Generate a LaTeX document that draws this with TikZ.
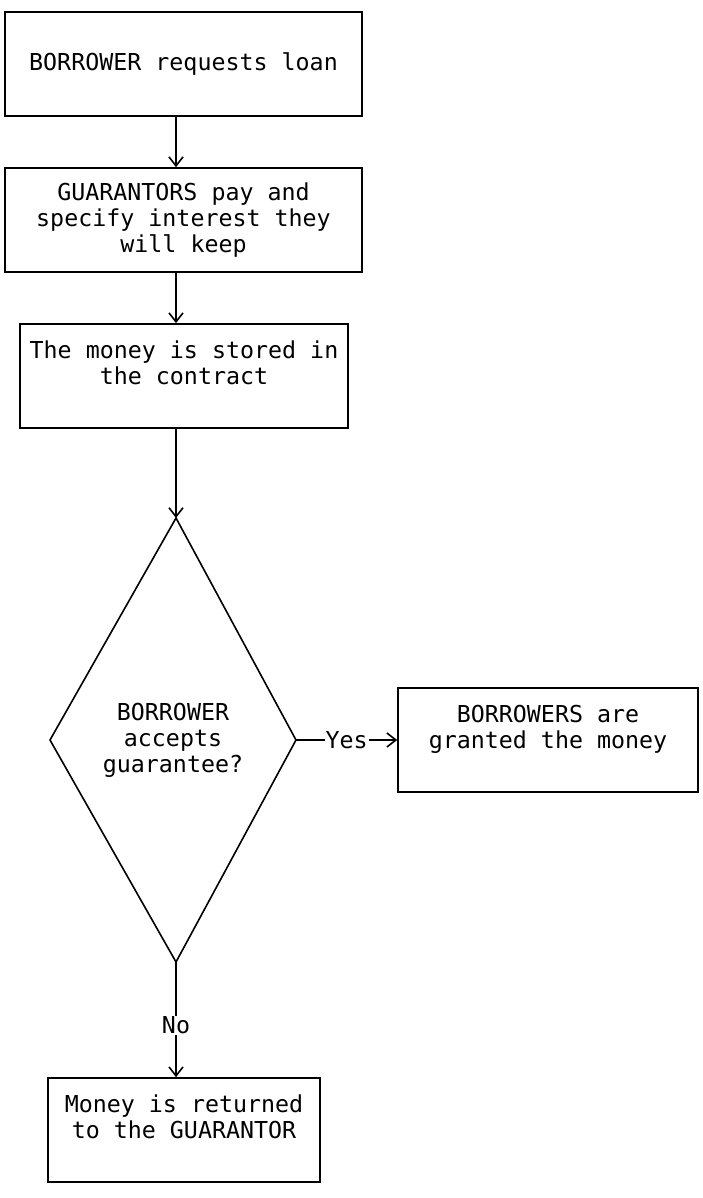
\documentclass[tikz,border=0pt]{standalone}
\usepackage{fontspec}
\setmonofont{DejaVu Sans Mono}
\usetikzlibrary{arrows.meta}
\tikzset{
  flowbox/.style={draw, line width=1.6pt, inner sep=0pt, minimum height=104pt, align=center},
  linklabel/.style={fill=white, inner sep=1pt}
}
\begin{document}
\begin{tikzpicture}[x=1pt, y=-1pt, line width=1.6pt, >={Straight Barb[length=9pt,width=14pt]},
    font=\ttfamily\fontsize{23.3}{26}\selectfont]
        \useasboundingbox (0,0) rectangle (702,1198);

        % boxes down the left side
        \node[flowbox, minimum width=357pt] (request) at (183.5,64) {BORROWER requests loan};
        \node[flowbox, minimum width=357pt] (guarantors) at (183.5,220) {GUARANTORS pay and\\specify interest they\\will keep};
        \node[flowbox, minimum width=328pt] (stored) at (184,376) {The money is stored in\\the contract\\\mbox{}};
        \node[flowbox, minimum width=300pt] (granted) at (548,740) {BORROWERS are\\granted the money\\\mbox{}};
        \node[flowbox, minimum width=272pt] (returned) at (184,1130) {Money is returned\\to the GUARANTOR\\\mbox{}};

        % decision
        \coordinate (dtop) at (176,518);
        \coordinate (dright) at (296,740);
        \coordinate (dbot) at (176,962);
        \coordinate (dleft) at (50,740);
        \draw (dtop) -- (dright) -- (dbot) -- (dleft) -- cycle;
        \node[align=center] (accepts) at (173,740) {BORROWER\\accepts\\guarantee?};

        % links
        \draw[->] (request.south -| dtop) -- (guarantors.north -| dtop);
        \draw[->] (guarantors.south -| dtop) -- (stored.north -| dtop);
        \draw[->] (stored.south -| dtop) -- (dtop);
        \draw[->] (dright) -- node[linklabel] (yes) {Yes} (granted.west);
        \draw[->] (dbot) -- node[linklabel, pos=0.55] (no) {No} (returned.north -| dbot);
\end{tikzpicture}
\end{document}
